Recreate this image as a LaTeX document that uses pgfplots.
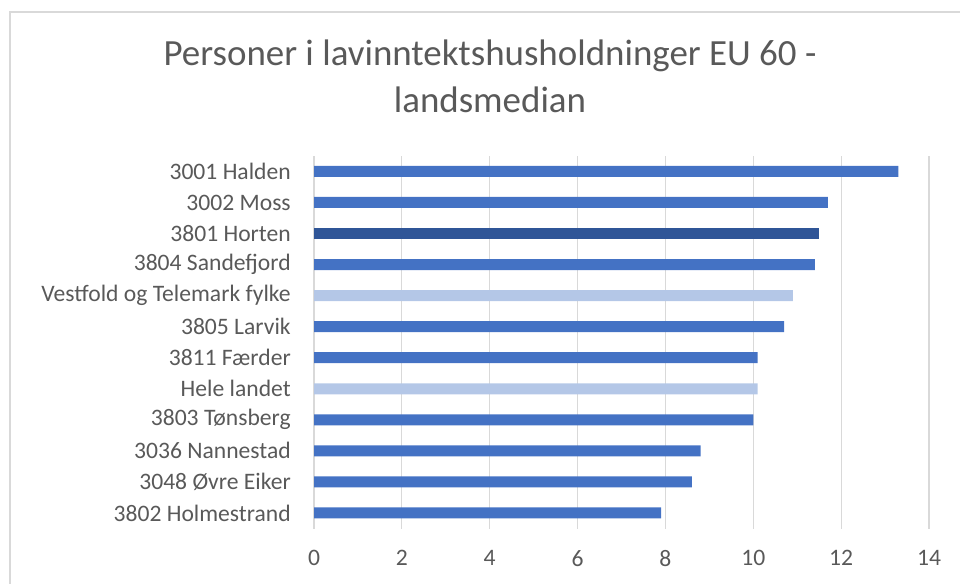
\documentclass[border=0pt]{standalone}
\usepackage{fontspec}
\setmainfont{Carlito}
\usepackage{pgfplots}
\pgfplotsset{compat=1.18}
\definecolor{barblue}{HTML}{4472C4}
\definecolor{bardark}{HTML}{2F5597}
\definecolor{barlight}{HTML}{B4C7E7}
\definecolor{txtgray}{HTML}{595959}
\definecolor{gridgray}{HTML}{D9D9D9}
\begin{document}
\begin{tikzpicture}
\path[use as bounding box] (0,0) rectangle (720pt,437.25pt);
\clip (0,0) rectangle (720pt,437.25pt);
\draw[gridgray, line width=1.2pt] (7.5pt,-20pt) rectangle (740pt,428.25pt);
\node[anchor=base, text=txtgray, inner sep=0pt, font=\fontsize{27.7pt}{33pt}\selectfont] at (367.5pt,387.75pt) {Personer i lavinntektshusholdninger EU 60 -};
\node[anchor=base, text=txtgray, inner sep=0pt, font=\fontsize{27.7pt}{33pt}\selectfont] at (367.5pt,352.5pt) {landsmedian};
\begin{axis}[
  at={(235.5pt,40.875pt)}, anchor=south west,
  scale only axis, width=461.25pt, height=279.45pt,
  xmin=0, xmax=14, ymin=-0.5, ymax=11.5,
  xtick={0,2,4,6,8,10,12,14},
  ytick={0,1,2,3,4,5,6,7,8,9,10,11},
  yticklabels={3802 Holmestrand,3048 Øvre Eiker,3036 Nannestad,3803 Tønsberg,Hele landet,3811 Færder,3805 Larvik,Vestfold og Telemark fylke,3804 Sandefjord,3801 Horten,3002 Moss,3001 Halden},
  xmajorgrids, grid style={gridgray, line width=0.9pt},
  axis line style={draw=none},
  major tick style={draw=none},
  /pgf/number format/assume math mode=true,
  yticklabel style={anchor=east, inner sep=0pt, xshift=-13pt, text=txtgray, font=\fontsize{17.7pt}{21pt}\selectfont},
  xticklabel style={anchor=north, inner sep=0pt, yshift=-16pt, text=txtgray, font=\fontsize{17.7pt}{21pt}\selectfont},
  xbar, bar width=8.25pt,
]
\addplot[xbar, bar shift=0pt, fill=barblue, draw=none] coordinates {
  (7.9,0) (8.6,1) (8.8,2) (10.0,3) (10.1,5) (10.7,6) (11.4,8) (11.7,10) (13.3,11)
};
\addplot[xbar, bar shift=0pt, fill=barlight, draw=none] coordinates {
  (10.1,4) (10.9,7)
};
\addplot[xbar, bar shift=0pt, fill=bardark, draw=none] coordinates {
  (11.5,9)
};
\end{axis}
\end{tikzpicture}
\end{document}
